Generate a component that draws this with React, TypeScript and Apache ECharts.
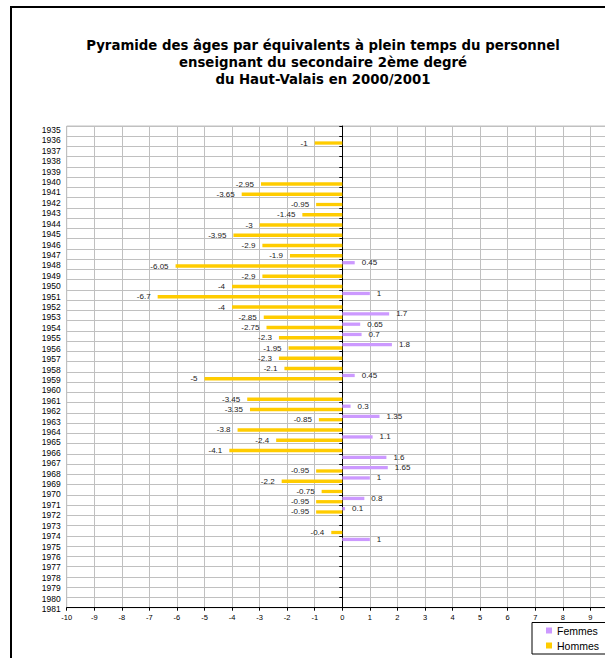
import React, { useEffect, useRef } from "react";
import * as echarts from "echarts";

const years = [
  "1935", "1936", "1937", "1938", "1939", "1940", "1941", "1942", "1943", "1944",
  "1945", "1946", "1947", "1948", "1949", "1950", "1951", "1952", "1953", "1954",
  "1955", "1956", "1957", "1958", "1959", "1960", "1961", "1962", "1963", "1964",
  "1965", "1966", "1967", "1968", "1969", "1970", "1971", "1972", "1973", "1974",
  "1975", "1976", "1977", "1978", "1979", "1980", "1981",
];

// Femmes (positive side)
const femmes: (number | null)[] = [
  null, null, null, null, null, null, null, null, null, null, // 1935-1944
  null, null, null, 0.45, null, null, 1, null, 1.7, 0.65,     // 1945-1954
  0.7, 1.8, null, null, 0.45, null, null, 0.3, 1.35, null,    // 1955-1964
  1.1, null, 1.6, 1.65, 1, null, 0.8, 0.1, null, null,        // 1965-1974
  1, null, null, null, null, null, null,                      // 1975-1981
];

// Hommes (negative side)
const hommes: (number | null)[] = [
  null, -1, null, null, null, -2.95, -3.65, -0.95, -1.45, -3,     // 1935-1944
  -3.95, -2.9, -1.9, -6.05, -2.9, -4, -6.7, -4, -2.85, -2.75,     // 1945-1954
  -2.3, -1.95, -2.3, -2.1, -5, null, -3.45, -3.35, -0.85, -3.8,   // 1955-1964
  -2.4, -4.1, null, -0.95, -2.2, -0.75, -0.95, -0.95, null, -0.4, // 1965-1974
  null, null, null, null, null, null, null,                       // 1975-1981
];

const seriesNames = ["Femmes", "Hommes"];
const xMin = -10;
const xMax = 10;
const xInterval = 1;
const titleLines = [
  "Pyramide des âges par équivalents à plein temps du personnel",
  "enseignant du secondaire 2ème degré",
  "du Haut-Valais en 2000/2001",
];

export default function App() {
  const ref = useRef<HTMLDivElement>(null);
  useEffect(() => {
    const chart = echarts.init(ref.current as HTMLDivElement, null, { renderer: "svg" });
    const font = "'Liberation Sans', Arial, sans-serif";
    const gridColor = "#c0c0c0";
    chart.setOption({
      animation: false,
      backgroundColor: "#fff",
      textStyle: { fontFamily: font },
      graphic: [
        {
          type: "rect",
          silent: true,
          z: 0,
          shape: { x: 11, y: 7, width: 800, height: 800 },
          style: { fill: "none", stroke: "#000", lineWidth: 2 },
        },
        {
          type: "text",
          x: 323,
          y: 36.5,
          style: {
            text: titleLines.join("\n"),
            font: "bold 13.3px 'DejaVu Sans'",
            textAlign: "center",
            textVerticalAlign: "top",
            lineHeight: 17.3,
            fill: "#000",
          },
        },
        {
          type: "rect",
          silent: true,
          shape: { x: 532, y: 622.5, width: 100, height: 31.5 },
          style: { fill: "#fff", stroke: "#000", lineWidth: 1 },
        },
      ],
      legend: {
        orient: "vertical",
        left: 546,
        top: 625,
        itemWidth: 6,
        itemHeight: 6,
        itemGap: 4,
        icon: "rect",
        padding: 0,
        selectedMode: false,
        data: seriesNames,
        textStyle: { fontSize: 10.5, color: "#000", fontFamily: font },
        z: 10,
      },
      grid: [
        {
          left: 66.7, top: 126, width: 551.2, height: 481.7,
          show: true, borderColor: gridColor, borderWidth: 1,
          containLabel: false, outerBoundsMode: "none",
        },
        {
          left: 66.7, top: 130, width: 551.2, height: 479,
          containLabel: false, outerBoundsMode: "none",
        },
      ],
      xAxis: [
        {
          type: "value",
          gridIndex: 0,
          min: xMin,
          max: xMax,
          interval: xInterval,
          position: "bottom",
          axisLine: { show: true, onZero: false, lineStyle: { color: "#000", width: 1 } },
          axisTick: { show: true, length: 3, lineStyle: { color: "#000" } },
          axisLabel: { fontSize: 7.5, color: "#000", margin: 6, fontFamily: font, showMaxLabel: false },
          splitLine: { show: true, lineStyle: { color: gridColor, width: 1 } },
        },
        { type: "value", gridIndex: 1, min: xMin, max: xMax, show: false },
      ],
      yAxis: [
        {
          type: "category",
          gridIndex: 0,
          data: years,
          inverse: true,
          boundaryGap: true,
          position: "left",
          axisLine: { show: false, onZero: false },
          axisTick: { show: false },
          axisLabel: { show: false },
          splitLine: { show: true, interval: 0, lineStyle: { color: gridColor, width: 1 } },
        },
        {
          type: "category",
          gridIndex: 0,
          data: years,
          inverse: true,
          boundaryGap: true,
          position: "left",
          axisLine: { show: true, onZero: true, lineStyle: { color: "#000", width: 1 } },
          axisTick: { show: true, interval: 0, length: 3, lineStyle: { color: "#000" } },
          axisLabel: { show: false },
          splitLine: { show: false },
        },
        {
          type: "category",
          gridIndex: 1,
          data: years,
          inverse: true,
          boundaryGap: false,
          position: "left",
          axisLine: { show: false, onZero: false },
          axisTick: { show: false },
          axisLabel: { show: true, interval: 0, fontSize: 8.5, color: "#000", margin: 6, fontFamily: font },
          splitLine: { show: false },
        },
      ],
      series: [
        {
          name: seriesNames[0],
          type: "bar",
          xAxisIndex: 0,
          yAxisIndex: 0,
          data: femmes,
          barWidth: 3.3,
          barGap: "0%",
          itemStyle: { color: "#CC99FF" },
          label: { show: true, position: "right", distance: 7, fontSize: 8, color: "#222", fontFamily: font },
        },
        {
          name: seriesNames[1],
          type: "bar",
          xAxisIndex: 0,
          yAxisIndex: 0,
          data: hommes,
          barWidth: 3.3,
          barGap: "0%",
          itemStyle: { color: "#FFCC00" },
          label: { show: true, position: "left", distance: 7, fontSize: 8, color: "#222", fontFamily: font },
        },
      ],
    });
    return () => chart.dispose();
  }, []);
  return (
    <div
      ref={ref}
      style={{ position: "absolute", left: 0, top: 0, width: 605, height: 658, background: "#fff", overflow: "hidden" }}
    />
  );
}
